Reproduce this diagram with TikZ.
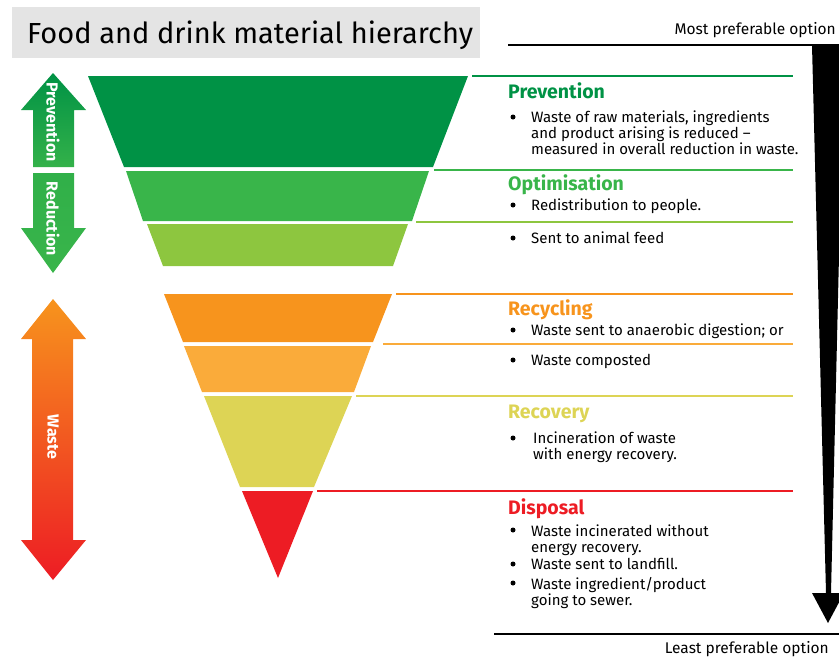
\documentclass[tikz,border=0pt]{standalone}
\usepackage{fontspec}
\setmainfont{Fira Sans}
\usetikzlibrary{calc}
\tikzset{>=latex}

\definecolor{prevgreen}{HTML}{009245}
\definecolor{optgreen}{HTML}{39B54A}
\definecolor{feedgreen}{HTML}{8DC63F}
\definecolor{recorange}{HTML}{F7941D}
\definecolor{comporange}{HTML}{FAAB3A}
\definecolor{recyellow}{HTML}{DDD455}
\definecolor{dispred}{HTML}{ED1C24}
\definecolor{titlegray}{HTML}{E4E4E4}

\begin{document}
\begin{tikzpicture}[x=1pt,y=-1pt,
  head/.style={anchor=base west, inner sep=0pt, font=\fontsize{19.5}{19.5}\selectfont\bfseries},
  item/.style={anchor=base west, inner sep=0pt, align=left, font=\fontsize{15}{16}\selectfont},
  dot/.style={circle, fill, inner sep=0pt, minimum size=5pt},
  rule/.style={line width=1.6pt},
  side/.style={rotate=-90, inner sep=0pt, text=white, font=\fontsize{16}{16}\selectfont\bfseries}]

\useasboundingbox (0,0) rectangle (839,659);

% title
\fill[titlegray] (12,7) rectangle (480,58);
\node[anchor=base west, inner sep=0pt, font=\fontsize{29}{29}\selectfont] (title) at (27,43) {Food and drink material hierarchy};

% preference scale on the right
\draw[line width=1.5pt] (508,45) -- (839,45);
\node[anchor=base east, inner sep=0pt, font=\fontsize{15.5}{15.5}\selectfont] (most) at (836,34) {Most preferable option};
\fill (812,45) -- (844,45) -- (831,593) -- (844,593) -- (828,623) -- (812,593) -- (826,593) -- cycle;
\draw[line width=1.5pt] (494,634) -- (839,634);
\node[anchor=base east, inner sep=0pt, font=\fontsize{15.5}{15.5}\selectfont] (least) at (829,653) {Least preferable option};

% funnel bands
\fill[prevgreen] (88,76) -- (468,76) -- (433,167) -- (124,167) -- cycle;
\fill[optgreen] (126,171) -- (429,171) -- (412,221) -- (143,221) -- cycle;
\fill[feedgreen] (147,224) -- (408,224) -- (393,266) -- (163,266) -- cycle;
\fill[recorange] (164,294) -- (392,294) -- (373,342) -- (183,342) -- cycle;
\fill[comporange] (184,346) -- (371,346) -- (354,392) -- (202,392) -- cycle;
\fill[recyellow] (204,396) -- (352,396) -- (314,487) -- (240,487) -- cycle;
\fill[dispred] (242,491) -- (313,491) -- (278,578) -- cycle;

% rules next to the bands
\draw[rule, prevgreen] (472,76) -- (793,76);
\draw[rule, optgreen] (434,170) -- (793,170);
\draw[rule, feedgreen] (416,222) -- (793,222);
\draw[rule, recorange] (396,294) -- (793,294);
\draw[rule, comporange] (383,344) -- (793,344);
\draw[rule, recyellow] (356,396) -- (793,396);
\draw[rule, dispred] (317,491) -- (793,491);

% labels (multi-line items sit on their last baseline)
\node[head, text=prevgreen] (prevention) at (508,98) {Prevention};
\node[dot] (d1) at (513,117) {};
\node[item] (t1) at (531,154) {Waste of raw materials, ingredients\\and product arising is reduced –\\measured in overall reduction in waste.};

\node[head, text=optgreen] (optimisation) at (508,190) {Optimisation};
\node[dot] (d2) at (513,205) {};
\node[item] (t2) at (531,210) {Redistribution to people.};
\node[dot] (d3) at (513,238) {};
\node[item] (t3) at (531,243) {Sent to animal feed};

\node[head, text=recorange] (recycling) at (508,315) {Recycling};
\node[dot] (d4) at (513,330) {};
\node[item] (t4) at (531,335) {Waste sent to anaerobic digestion; or};
\node[dot] (d5) at (513,360) {};
\node[item] (t5) at (531,365) {Waste composted};

\node[head, text=recyellow] (recovery) at (508,418) {Recovery};
\node[dot] (d6) at (513,438) {};
\node[item] (t6) at (533,459) {Incineration of waste\\with energy recovery.};

\node[head, text=dispred] (disposal) at (508,514) {Disposal};
\node[dot] (d7) at (513,530) {};
\node[item] (t7) at (531,552) {Waste incinerated without\\energy recovery.};
\node[dot] (d8) at (513,564) {};
\node[item] (t8) at (531,569) {Waste sent to landfill.};
\node[dot] (d9) at (513,583) {};
\node[item] (t9) at (531,605) {Waste ingredient/product\\going to sewer.};

% side arrows
\shade[top color=prevgreen, bottom color=optgreen!90!prevgreen]
  (53,73) -- (86,110) -- (74,110) -- (74,167) -- (33,167) -- (33,110) -- (21,110) -- cycle;
\shade[top color=optgreen!85!prevgreen, bottom color=optgreen]
  (33,173) -- (74,173) -- (74,228) -- (86,228) -- (53,273) -- (21,228) -- (33,228) -- cycle;
\shade[top color=recorange, middle color=comporange!80!recorange, bottom color=dispred]
  (53,299) -- (86,339) -- (73,339) -- (73,540) -- (86,540) -- (53,580) -- (21,540) -- (32,540) -- (32,339) -- (21,339) -- cycle;
\node[side] (prevarrow) at (53,122) {Prevention};
\node[side] (redarrow) at (53,219) {Reduction};
\node[side] (wastearrow) at (53,437) {Waste};

\end{tikzpicture}
\end{document}
